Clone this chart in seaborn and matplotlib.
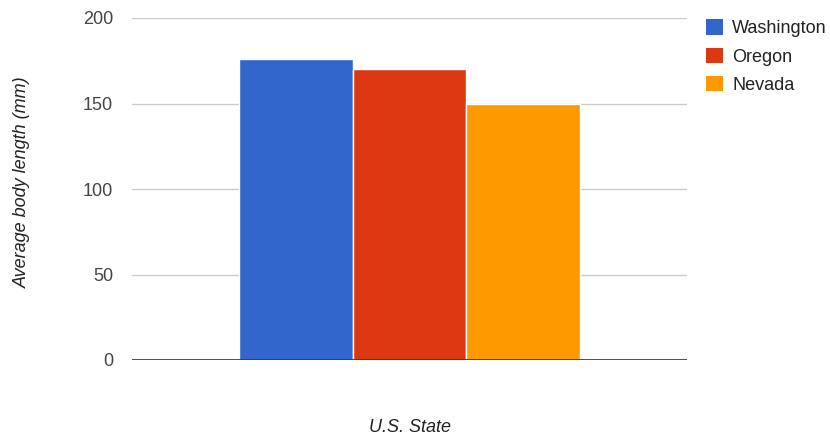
import matplotlib
matplotlib.use("Agg")
import matplotlib.pyplot as plt
import seaborn as sns
import pandas as pd
from matplotlib.patches import Patch

states = ["Washington", "Oregon", "Nevada"]
values = [176, 170, 150]
colors = ["#3366CC", "#DC3912", "#FF9900"]
yticks = [0, 50, 100, 150, 200]

sns.set_theme(style="white")
plt.rcParams["font.family"] = ["Liberation Sans", "DejaVu Sans"]

df = pd.DataFrame({"group": [""] * len(states), "state": states, "value": values})

fig = plt.figure(figsize=(8.3, 4.38), dpi=100)
ax = fig.add_axes([132 / 830, 1 - 360 / 438, 555 / 830, 342 / 438])

sns.barplot(data=df, x="group", y="value", hue="state", hue_order=states,
            palette=colors, width=0.613, ax=ax, edgecolor="white",
            linewidth=1, saturation=1, legend=False)

fs = 13
ax.set_xlim(-0.5, 0.5)
ax.set_ylim(0, 200)
ax.set_yticks(yticks)
ax.set_yticklabels([str(t) for t in yticks], color="#444444", fontsize=fs)
ax.set_xticks([])
ax.tick_params(axis="y", length=0, pad=13.7)
for s in ax.spines.values():
    s.set_visible(False)
ax.grid(axis="y", color="#CCCCCC", linewidth=1)
ax.set_axisbelow(True)
ax.axhline(0, color="#333333", linewidth=1.2, zorder=5)

ax.set_xlabel("")
ax.set_ylabel("")
fig.text(410 / 830, 1 - 427 / 438, "U.S. State", ha="center", va="center",
         style="italic", fontsize=fs, color="#222222")
fig.text(22 / 830, 1 - 182 / 438, "Average body length (mm)", ha="center",
         va="center", rotation=90, style="italic", fontsize=fs, color="#222222")

handles = [Patch(facecolor=c, edgecolor="none") for c in colors]
fig.legend(handles, states, loc="upper left", bbox_to_anchor=(699 / 830, 1 - 12 / 438),
           frameon=False, fontsize=fs, labelcolor="#222222", handlelength=0.95,
           handleheight=0.95, handletextpad=0.5, labelspacing=0.57, borderaxespad=0)

fig.savefig("out.png", dpi=100)
